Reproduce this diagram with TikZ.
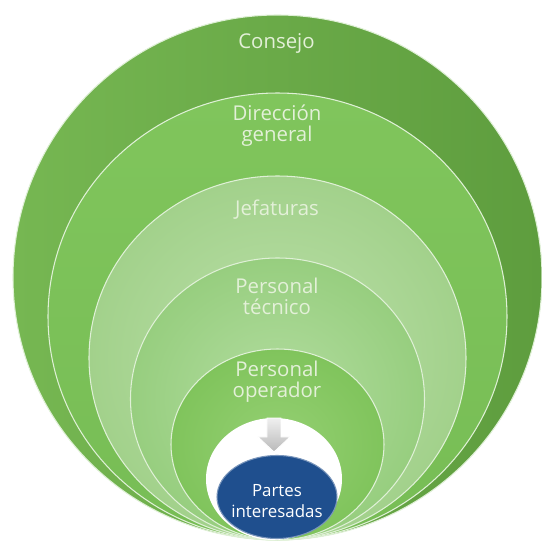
\documentclass[tikz,border=0pt]{standalone}
\usepackage{fontspec}
\setmainfont{Open Sans}
\usepackage{xcolor}
\usetikzlibrary{calc}
\definecolor{leafA}{HTML}{76B752}
\definecolor{leafB}{HTML}{5E9D3E}
\definecolor{leafC}{HTML}{80C55C}
\definecolor{leafD}{HTML}{77BD55}
\definecolor{paleA}{HTML}{BCE0AA}
\definecolor{paleB}{HTML}{A2D18B}
\definecolor{paleC}{HTML}{B3DDA0}
\definecolor{paleD}{HTML}{97CE7F}
\definecolor{midA}{HTML}{95D073}
\definecolor{midB}{HTML}{80C45C}
\definecolor{labeltxt}{HTML}{E3F0D8}
\definecolor{navy}{HTML}{1F4F8E}
\tikzset{
	ring/.style={draw=white!75!leafC, line width=0.6pt},
	ringone/.style={left color=leafA, right color=leafB},
	ringtwo/.style={top color=leafC, bottom color=leafD},
	ringthree/.style={inner color=paleA, outer color=paleB},
	ringfour/.style={inner color=paleC, outer color=paleD},
	ringfive/.style={inner color=midA, outer color=midB},
	level/.style={text=labeltxt, align=center, font=\fontsize{11.6pt}{11.8pt}\selectfont}
}

\begin{document}
\begin{tikzpicture}
			\useasboundingbox (0,0) rectangle (10.84,10.84);
			\coordinate (base) at (5.55,0.04);

			% nested levels, all resting on the same base point
			\foreach \rx/\ry/\sty in {5.29/5.25/ringone, 4.59/4.47/ringtwo, 3.77/3.64/ringthree, 2.94/2.82/ringfour, 2.13/1.91/ringfive} {
				\draw[ring, \sty]	($(base)+(0,\ry)$) ellipse ({\rx} and {\ry});
			}
			\fill[white]	($(base)+(-0.07,1.22)$) ellipse (1.36 and 1.22);
			\draw[navy!60!white, fill=navy, line width=0.6pt]	($(base)+(-0.01,0.86)$) ellipse (1.2 and 0.83);

			% arrow into the stakeholders
			\draw[white, line width=0.5pt, top color=gray!12, bottom color=gray!55]
				(5.34,2.48) -- (5.62,2.48) -- (5.62,2.10) -- (5.80,2.10) -- (5.48,1.80) -- (5.16,2.10) -- (5.34,2.10) -- cycle;

			\node[level]	(consejo)		at (5.53,9.98)	{Consejo};
			\node[level]	(direccion)	at (5.54,8.33)	{Dirección\\general};
			\node[level]	(jefaturas)	at (5.54,6.64)	{Jefaturas};
			\node[level]	(tecnico)		at (5.54,4.91)	{Personal\\técnico};
			\node[level]	(operador)	at (5.54,3.20)	{Personal\\operador};
			\node[level, text=white, font=\fontsize{9.6pt}{12pt}\selectfont]	(partes)	at (5.54,0.81)	{Partes\\interesadas};
		\end{tikzpicture}
\end{document}
